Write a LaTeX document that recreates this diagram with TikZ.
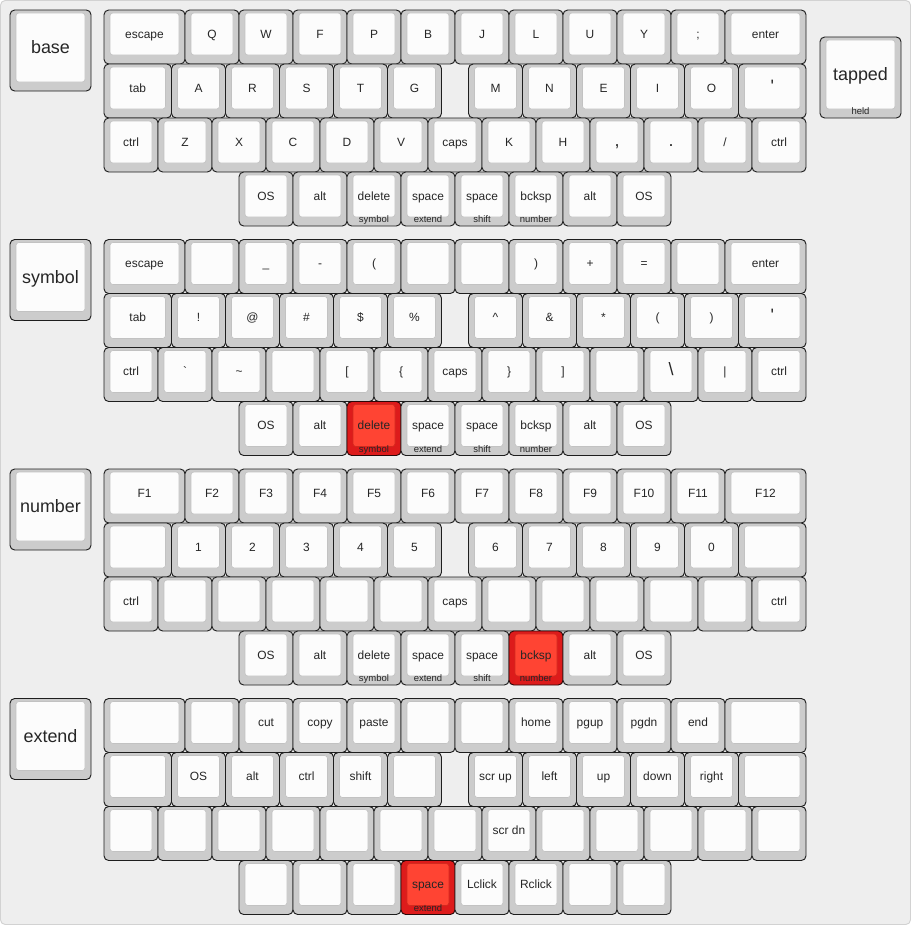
\documentclass[tikz,border=0pt]{standalone}
\usepackage{fontspec}
\setmainfont{Liberation Sans}
\definecolor{pagefill}{HTML}{EEEEEE}
\definecolor{pageedge}{HTML}{D2D2D2}
\definecolor{greyedge}{HTML}{1E1E1E}
\definecolor{greyside}{HTML}{CCCCCC}
\definecolor{greytop}{HTML}{FCFCFC}
\definecolor{greyrim}{HTML}{C2C2C2}
\definecolor{rededge}{HTML}{2A0808}
\definecolor{redside}{HTML}{DD1B1B}
\definecolor{redtop}{HTML}{FF4433}
\definecolor{redrim}{HTML}{D22A1E}
\definecolor{legend}{HTML}{262626}
\tikzset{
  keyside/.style={draw=#1edge,fill=#1side,line width=0.8pt,rounded corners=4pt,inner sep=0pt,outer sep=0pt,anchor=north west},
  keytop/.style={draw=#1rim,fill=#1top,line width=0.5pt,rounded corners=2.5pt,inner sep=0pt,outer sep=0pt,anchor=north west,
    text=legend,font=\fontsize{10.2}{12}\selectfont,text height=7.3pt,text depth=0pt},
  layertop/.style={font=\fontsize{15.3}{18}\selectfont,text height=11pt},
  sublabel/.style={anchor=base,inner sep=0pt,text=legend,font=\fontsize{8.1}{9}\selectfont},
  page/.style={draw=pageedge,fill=pagefill,rounded corners=4pt,line width=0.8pt}
}
\def\kc{grey}
\newcommand\biglab[1]{{\fontsize{15.3}{18}\selectfont #1}}
% [top style] name, x, y (px), width, height (u), legend, front legend
\newcommand\keycap[8][]{%
  \node[keyside=\kc,minimum width=#5*1.62cm,minimum height=#6*1.62cm] (#2) at (#3,#4) {};
  \node[keytop=\kc,minimum width=#5*1.62cm-0.36cm,minimum height=#6*1.62cm-0.36cm,#1] (#2t) at (#3+6,#4+3) {#7};
  \node[sublabel] (#2s) at (#3+#5*27,#4+#6*54-3.5) {#8};
}
% name, top, title, four rows, highlighted thumb key
\newcommand\keylayer[8]{%
  \keycap[layertop]{#1}{10}{#2}{1.5}{1.5}{#3}{}
  \foreach \lab [count=\i from 0] in {#4}{
    \pgfmathsetmacro\kx{104+54*(\i+0.5*(\i>0))}
    \pgfmathsetmacro\kw{1+0.5*((\i==0)+(\i==11))}
    \keycap{#1a\i}{\kx}{#2}{\kw}{1}{\lab}{}
  }
  \foreach \lab [count=\i from 0] in {#5}{
    \pgfmathsetmacro\kx{104+54*(\i+0.25*(\i>0)+0.5*(\i>5))}
    \pgfmathsetmacro\kw{1+0.25*((\i==0)+(\i==11))}
    \keycap{#1b\i}{\kx}{#2+54}{\kw}{1}{\lab}{}
  }
  \foreach \lab [count=\i from 0] in {#6}{
    \pgfmathsetmacro\kx{104+54*\i}
    \keycap{#1c\i}{\kx}{#2+108}{1}{1}{\lab}{}
  }
  \foreach \lab/\sublab [count=\i from 0] in {#7}{
    \ifnum\i=#8 \def\kc{red}\fi
    \pgfmathsetmacro\kx{104+54*(\i+2.5)}
    \keycap{#1d\i}{\kx}{#2+162}{1}{1}{\lab}{\sublab}
  }
}

\begin{document}
\begin{tikzpicture}[x=0.03cm,y=-0.03cm]
  \useasboundingbox (0,0) rectangle (911,925);
  \path[page] (0.5,0.5) rectangle (910.5,924.5);

  \keylayer{base}{10}{base}
    {escape,Q,W,F,P,B,J,L,U,Y,;,enter}
    {tab,A,R,S,T,G,M,N,E,I,O,{\biglab{\textquotesingle}}}
    {ctrl,Z,X,C,D,V,caps,K,H,{\biglab{,}},{\biglab{.}},{/},ctrl}
    {OS/,alt/,delete/symbol,space/extend,space/shift,bcksp/number,alt/,OS/}{-1}
  \keycap[layertop]{tapkey}{820}{37}{1.5}{1.5}{tapped}{held}

  \keylayer{symbol}{239.5}{symbol}
    {escape,{},\_,-,{(},{},{},{)},+,=,{},enter}
    {tab,!,@,\#,\$,\%,\textasciicircum,\&,*,{(},{)},{\biglab{\textquotesingle}}}
    {ctrl,\textasciigrave,\textasciitilde,{},{[},\{,caps,\},{]},{},{\biglab{\textbackslash}},\textbar,ctrl}
    {OS/,alt/,delete/symbol,space/extend,space/shift,bcksp/number,alt/,OS/}{2}

  \keylayer{number}{469}{number}
    {F1,F2,F3,F4,F5,F6,F7,F8,F9,F10,F11,F12}
    {{},1,2,3,4,5,6,7,8,9,0,{}}
    {ctrl,{},{},{},{},{},caps,{},{},{},{},{},ctrl}
    {OS/,alt/,delete/symbol,space/extend,space/shift,bcksp/number,alt/,OS/}{5}

  \keylayer{extend}{698.5}{extend}
    {{},{},cut,copy,paste,{},{},home,pgup,pgdn,end,{}}
    {{},OS,alt,ctrl,shift,{},scr up,left,up,down,right,{}}
    {{},{},{},{},{},{},{},scr dn,{},{},{},{},{}}
    {{}/{},{}/{},{}/{},space/extend,Lclick/{},Rclick/{},{}/{},{}/{}}{3}
\end{tikzpicture}
\end{document}
